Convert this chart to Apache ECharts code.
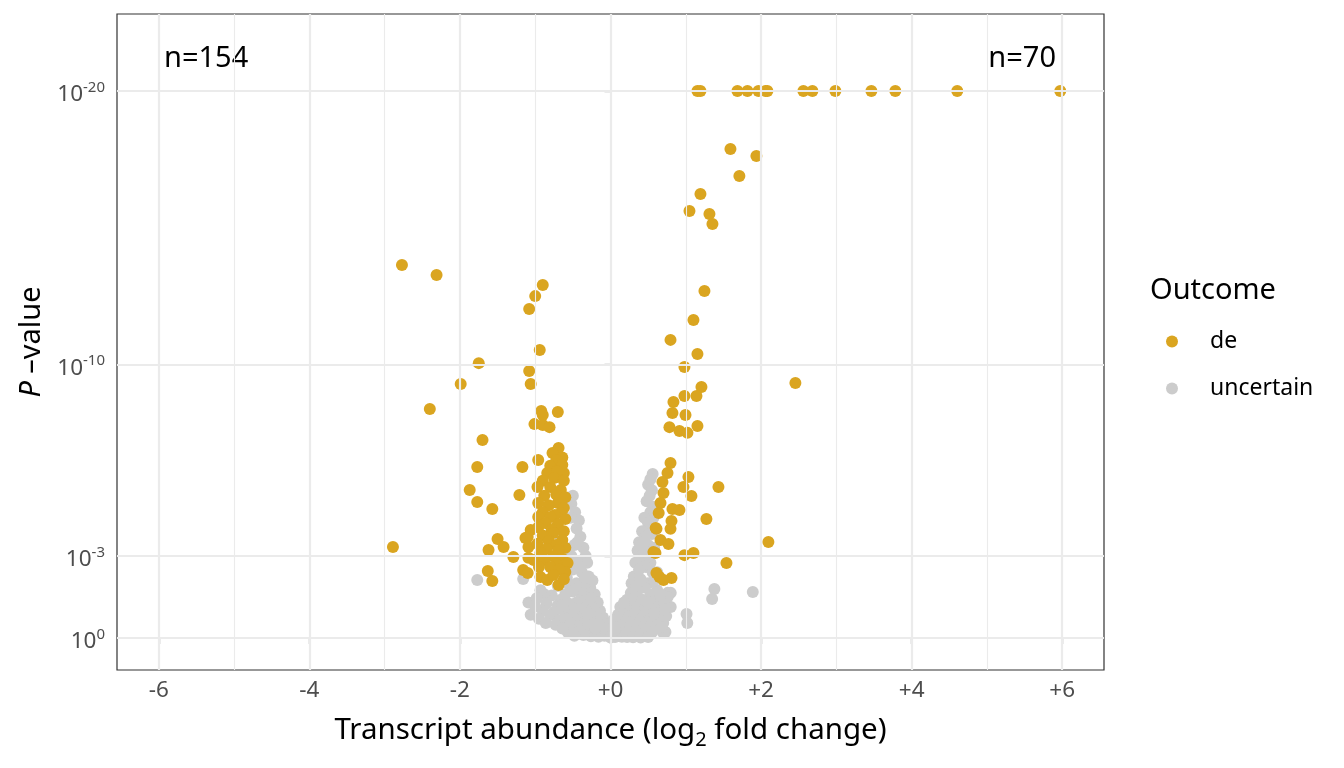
<!DOCTYPE html>
<html>
<head>
<meta charset="utf-8">
<script src="https://cdn.jsdelivr.net/npm/echarts@6/dist/echarts.min.js"></script>
<style>
  html, body { margin: 0; padding: 0; background: #fff; }
  #main { width: 1344px; height: 768px; }
</style>
</head>
<body>
<div id="main"></div>
<script>
// points are [log2 fold change, -log10(P)]
var deRight = [
  [1.155,20],[1.195,20],[1.686,20],[1.819,20],[1.965,20],[2.058,20],[2.084,20],
  [2.562,20],[2.682,20],[2.987,20],[3.465,20],[3.783,20],[4.606,20],[5.974,20],
  [1.593,17.88],[1.938,17.62],[1.712,16.89],[1.195,16.23],[1.049,15.61],[1.314,15.50],[1.354,15.14],
  [1.248,12.69],[1.102,11.63],[0.797,10.90],[1.155,10.38],[0.982,9.91],[2.456,9.32],[1.208,9.18],
  [0.982,8.85],[1.142,8.85],[0.836,8.63],[0.823,8.23],[0.996,8.15],[0.783,7.71],[0.916,7.57],
  [1.022,7.50],[1.155,7.75],
  [0.797,6.40],[0.757,6.03],[0.690,5.70],[1.035,5.89],[0.969,5.52],[1.075,5.19],[1.434,5.52],
  [0.704,5.30],[0.664,4.94],[0.823,4.72],[0.916,4.68],[1.274,4.35],[0.810,4.28],[0.797,3.99],
  [0.611,3.99],[0.664,3.58],[0.770,3.44],[2.097,3.51],[0.982,3.03],[1.102,3.11],[0.597,3.11],
  [1.540,2.74],[0.650,2.23],[0.810,2.19],[0.704,2.12],
  [0.60,4.02],[0.64,4.57],[0.57,3.14],[0.61,2.38]
];

var deLeft = [
  [-2.77,13.64],[-2.31,13.27],[-0.90,12.91],[-1.00,12.50],[-1.08,12.03],[-0.94,10.53],
  [-1.75,10.05],[-1.08,9.76],[-1.99,9.29],[-1.06,9.29],[-2.40,8.37],[-0.92,8.30],[-0.90,8.15],
  [-0.70,8.26],[-1.01,7.82],[-0.90,7.79],[-0.81,7.71],[-1.70,7.24],
  [-1.17,6.25],[-1.77,6.25],[-1.87,5.41],[-1.21,5.23],[-1.77,4.97],[-1.57,4.72],[-1.10,3.69],
  [-1.50,3.62],[-1.62,3.22],[-1.42,3.33],[-1.29,2.96],[-2.89,3.33],[-1.09,2.93],[-1.63,2.45],
  [-1.57,2.08],[-1.16,2.49],[-1.10,2.38],[-1.09,3.33],
  [-0.69,6.95],[-0.77,6.76],[-0.64,6.6],[-0.72,6.5],[-0.96,6.51],[-0.64,6.33],[-0.80,6.3],
  [-0.62,6.03],[-0.84,6.03],[-0.71,6.1],[-0.75,5.85],[-0.62,5.75],[-0.90,5.75],[-0.97,5.52],
  [-0.80,5.52],[-0.66,5.41],[-0.72,5.25],[-0.88,5.2],[-0.60,5.15],[-0.96,4.94],[-0.70,4.94],
  [-0.82,4.85],[-0.62,4.75],[-0.66,4.57],[-0.90,4.6],[-0.74,4.5],[-0.96,4.42],[-0.80,4.42],
  [-0.60,4.35],[-0.86,4.2],[-0.70,4.15],[-0.96,4.05],[-1.06,3.95],[-0.78,3.95],[-0.62,3.9],
  [-0.76,3.84],[-0.90,3.75],[-1.13,3.66],[-0.64,3.58],[-0.82,3.55],[-0.97,3.45],[-0.72,3.4],
  [-0.60,3.3],[-0.69,3.22],[-0.85,3.25],[-0.93,3.11],[-0.76,3.0],[-1.02,2.85],[-0.88,2.85],
  [-0.64,2.9],[-0.57,2.74],[-0.72,2.7],[-0.80,2.60],[-0.95,2.6],[-0.60,2.41],[-0.68,2.5],
  [-0.93,2.23],[-0.84,2.12],[-0.76,2.3],[-0.69,1.94],[-0.62,2.15]
];

var uncertainLeft = [
  [-0.50,5.2],[-0.52,4.9],[-0.47,4.6],[-0.42,4.3],[-0.45,4.0],[-0.40,3.7],[-0.36,3.3],
  [-0.56,3.2],[-0.48,3.4],[-0.33,3.0],[-0.31,2.75],[-0.45,2.8],[-0.56,2.85],[-0.29,2.25],
  [-0.38,2.4],[-0.50,2.5],[-0.62,2.4],[-0.24,2.1],[-0.27,1.85],[-0.35,1.9],[-0.45,2.0],
  [-0.55,1.95],[-0.70,1.9],[-0.21,1.6],[-0.30,1.6],[-0.40,1.65],[-0.50,1.7],[-0.60,1.6],
  [-0.66,1.4],[-0.78,1.55],[-0.88,1.6],[-0.93,1.75],[-0.17,1.3],[-0.25,1.3],[-0.35,1.35],
  [-0.45,1.3],[-0.55,1.25],[-0.70,1.2],[-0.85,1.25],[-1.09,1.3],[-0.14,1.0],[-0.22,1.05],
  [-0.32,1.0],[-0.42,1.05],[-0.52,0.95],[-0.62,1.0],[-0.75,0.95],[-0.90,1.0],[-1.06,0.85],
  [-0.80,0.84],[-0.10,0.75],[-0.18,0.75],[-0.28,0.7],[-0.38,0.75],[-0.48,0.7],[-0.58,0.7],
  [-0.68,0.65],[-0.95,0.7],[-0.07,0.5],[-0.15,0.5],[-0.25,0.45],[-0.35,0.5],[-0.45,0.45],
  [-0.55,0.4],[-0.73,0.48],[-0.04,0.3],[-0.12,0.25],[-0.22,0.25],[-0.32,0.2],[-0.42,0.2],
  [-0.57,0.22],[-0.02,0.1],[-0.08,0.08],[-0.16,0.05],[-0.26,0.06],[-0.36,0.11],[-0.48,0.08],
  [-1.77,2.12],[-1.16,2.16],[-0.98,1.45],[-0.66,3.6],[-0.62,2.9],
  [-0.53,4.4],[-0.44,3.5],[-0.52,3.0],[-0.40,2.6],[-0.34,2.2],[-0.58,2.2],[-0.26,1.45],
  [-0.64,1.2],[-1.00,1.15],[-0.86,0.55],[-0.64,0.35],[-0.30,0.9],[-0.20,0.35],[-0.06,0.2]
];

var uncertainRight = [
  [0.56,6.0],[0.53,5.8],[0.50,5.6],[0.55,5.4],[0.52,5.2],[0.48,5.0],[0.57,4.8],[0.53,4.6],
  [0.57,4.4],[0.45,4.4],[0.50,4.2],[0.49,3.95],[0.42,3.9],[0.55,3.8],[0.46,3.7],[0.38,3.5],
  [0.50,3.4],[0.58,3.3],[0.36,3.2],[0.44,3.1],[0.40,2.85],[0.33,2.75],[0.53,2.75],[0.47,2.6],
  [0.56,2.4],[0.62,2.4],[0.31,2.25],[0.40,2.15],[0.28,2.0],[0.50,2.0],[0.44,1.85],[0.62,1.75],
  [0.27,1.65],[0.35,1.6],[0.53,1.6],[0.76,1.65],[0.22,1.4],[0.30,1.35],[0.42,1.4],[0.60,1.4],
  [0.68,1.3],[0.13,1.13],[0.20,1.1],[0.28,1.1],[0.36,1.13],[0.46,1.1],[0.57,1.13],[0.80,1.13],
  [0.66,0.91],[0.10,0.85],[0.17,0.85],[0.25,0.8],[0.34,0.85],[0.44,0.8],[0.54,0.82],[0.74,0.8],
  [0.04,0.66],[0.12,0.6],[0.20,0.6],[0.31,0.55],[0.40,0.6],[0.48,0.55],[0.62,0.6],[0.70,0.55],
  [0.08,0.4],[0.16,0.38],[0.26,0.4],[0.36,0.35],[0.45,0.4],[0.53,0.40],[0.62,0.35],[0.03,0.18],
  [0.12,0.18],[0.22,0.15],[0.32,0.18],[0.42,0.15],[0.55,0.2],[0.73,0.22],[0.00,0.02],[0.06,0.04],
  [0.15,0.05],[0.22,0.04],[0.30,0.03],[0.40,0.02],[0.50,0.04],
  [1.38,1.79],[1.35,1.43],[1.89,1.68],[1.01,0.88],[1.02,0.55],[0.80,1.65],[0.76,1.50],
  [0.70,0.18],
  [0.44,3.5],[0.51,3.0],[0.38,2.5],[0.58,2.1],[0.34,1.9],[0.66,1.55],[0.18,1.3],[0.50,1.3],
  [0.72,1.05],[0.06,0.3],[0.68,0.4],[0.58,0.9]
];

var xTicks = [-6, -4, -2, 0, 2, 4, 6];
var xMinor = [-5, -3, -1, 1, 3, 5];
var yTicks = [0, 3, 10, 20];
var yTickExp = { 0: '0', 3: '-3', 10: '-10', 20: '-20' };
var countLabels = ['n=154', 'n=70'];

var xMin = -6.555, xMax = 6.555, yMin = -1.17, yMax = 22.815;

var dom = document.getElementById('main');
var myChart = echarts.init(dom, null, { renderer: 'canvas' });
var font = 'Noto Sans';

// panel grid lines (ggplot style), drawn under the points
var gridLines = [];
xTicks.forEach(function (v) {
  gridLines.push([{ coord: [v, yMin], lineStyle: { width: 2.2 } }, { coord: [v, yMax] }]);
});
xMinor.forEach(function (v) {
  gridLines.push([{ coord: [v, yMin], lineStyle: { width: 1.1 } }, { coord: [v, yMax] }]);
});
yTicks.forEach(function (v) {
  gridLines.push([{ coord: [xMin, v], lineStyle: { width: 2.2 } }, { coord: [xMax, v] }]);
});

var option = {
  backgroundColor: '#fff',
  animation: false,
  grid: {
    left: 117, right: 240, top: 14, bottom: 98,
    show: true, borderColor: '#333', borderWidth: 1.2, backgroundColor: '#fff'
  },
  xAxis: {
    type: 'value', min: xMin, max: xMax,
    axisLine: { show: false },
    splitLine: { show: false },
    axisTick: { show: true, customValues: xTicks, length: 6, lineStyle: { color: '#333', width: 1.2 } },
    axisLabel: {
      customValues: xTicks, margin: 9, color: '#4D4D4D', fontSize: 22.5, fontFamily: font,
      formatter: function (v) { return v >= 0 ? '+' + v : String(v); }
    },
    name: 'Transcript abundance (log{sub|2} fold change)',
    nameLocation: 'middle', nameGap: 42,
    nameTextStyle: {
      color: '#000', fontSize: 29.5, fontFamily: font, lineHeight: 38,
      rich: { sub: { fontSize: 20, fontFamily: font, color: '#000', lineHeight: 21, verticalAlign: 'bottom' } }
    }
  },
  yAxis: {
    type: 'value', min: yMin, max: yMax,
    axisLine: { show: false },
    splitLine: { show: false },
    axisTick: { show: true, customValues: yTicks, length: 6, lineStyle: { color: '#333', width: 1.2 } },
    axisLabel: {
      customValues: yTicks, margin: 12, color: '#4D4D4D', fontFamily: font,
      padding: [8, 0, 0, 0],
      formatter: function (v) { return '{b|10}{s|' + yTickExp[v] + '}'; },
      rich: {
        b: { fontSize: 22.5, fontFamily: font, color: '#4D4D4D', lineHeight: 30 },
        s: { fontSize: 15, fontFamily: font, color: '#4D4D4D', lineHeight: 14, verticalAlign: 'top' }
      }
    },
    name: '{i|P} –value',
    nameLocation: 'middle', nameGap: 70,
    nameTextStyle: {
      color: '#000', fontSize: 29, fontFamily: font,
      rich: { i: { fontStyle: 'italic', fontSize: 29, fontFamily: font, color: '#000' } }
    }
  },
  legend: {
    data: ['de', 'uncertain'],
    orient: 'vertical', left: 1166, top: 330, padding: 0,
    itemWidth: 12, itemHeight: 12, itemGap: 24,
    icon: 'circle',
    textStyle: { color: '#000', fontSize: 23, fontFamily: font, padding: [0, 0, 0, 27] }
  },
  graphic: [
    { type: 'text', left: 1150, top: 276, style: { text: 'Outcome', fill: '#000', font: '29px "Noto Sans"' } },
    { type: 'text', x: 164, y: 59, style: { text: countLabels[0], fill: '#000', font: '29px "Noto Sans"', textVerticalAlign: 'middle' } },
    { type: 'text', x: 1056, y: 59, style: { text: countLabels[1], fill: '#000', font: '29px "Noto Sans"', textAlign: 'right', textVerticalAlign: 'middle' } }
  ],
  series: [
    {
      name: 'grid', type: 'scatter', data: [], z: 0, silent: true,
      markLine: {
        silent: true, symbol: ['none', 'none'], label: { show: false },
        lineStyle: { color: '#EBEBEB', type: 'solid' },
        emphasis: { disabled: true },
        data: gridLines
      }
    },
    {
      name: 'uncertain', type: 'scatter', z: 2, symbolSize: 12,
      itemStyle: { color: '#CCCCCC', opacity: 1 },
      data: uncertainLeft.concat(uncertainRight)
    },
    {
      name: 'de', type: 'scatter', z: 3, symbolSize: 12,
      itemStyle: { color: '#DAA520', opacity: 1 },
      data: deLeft.concat(deRight)
    }
  ]
};

myChart.setOption(option);
window.addEventListener('resize', myChart.resize);
</script>
</body>
</html>
